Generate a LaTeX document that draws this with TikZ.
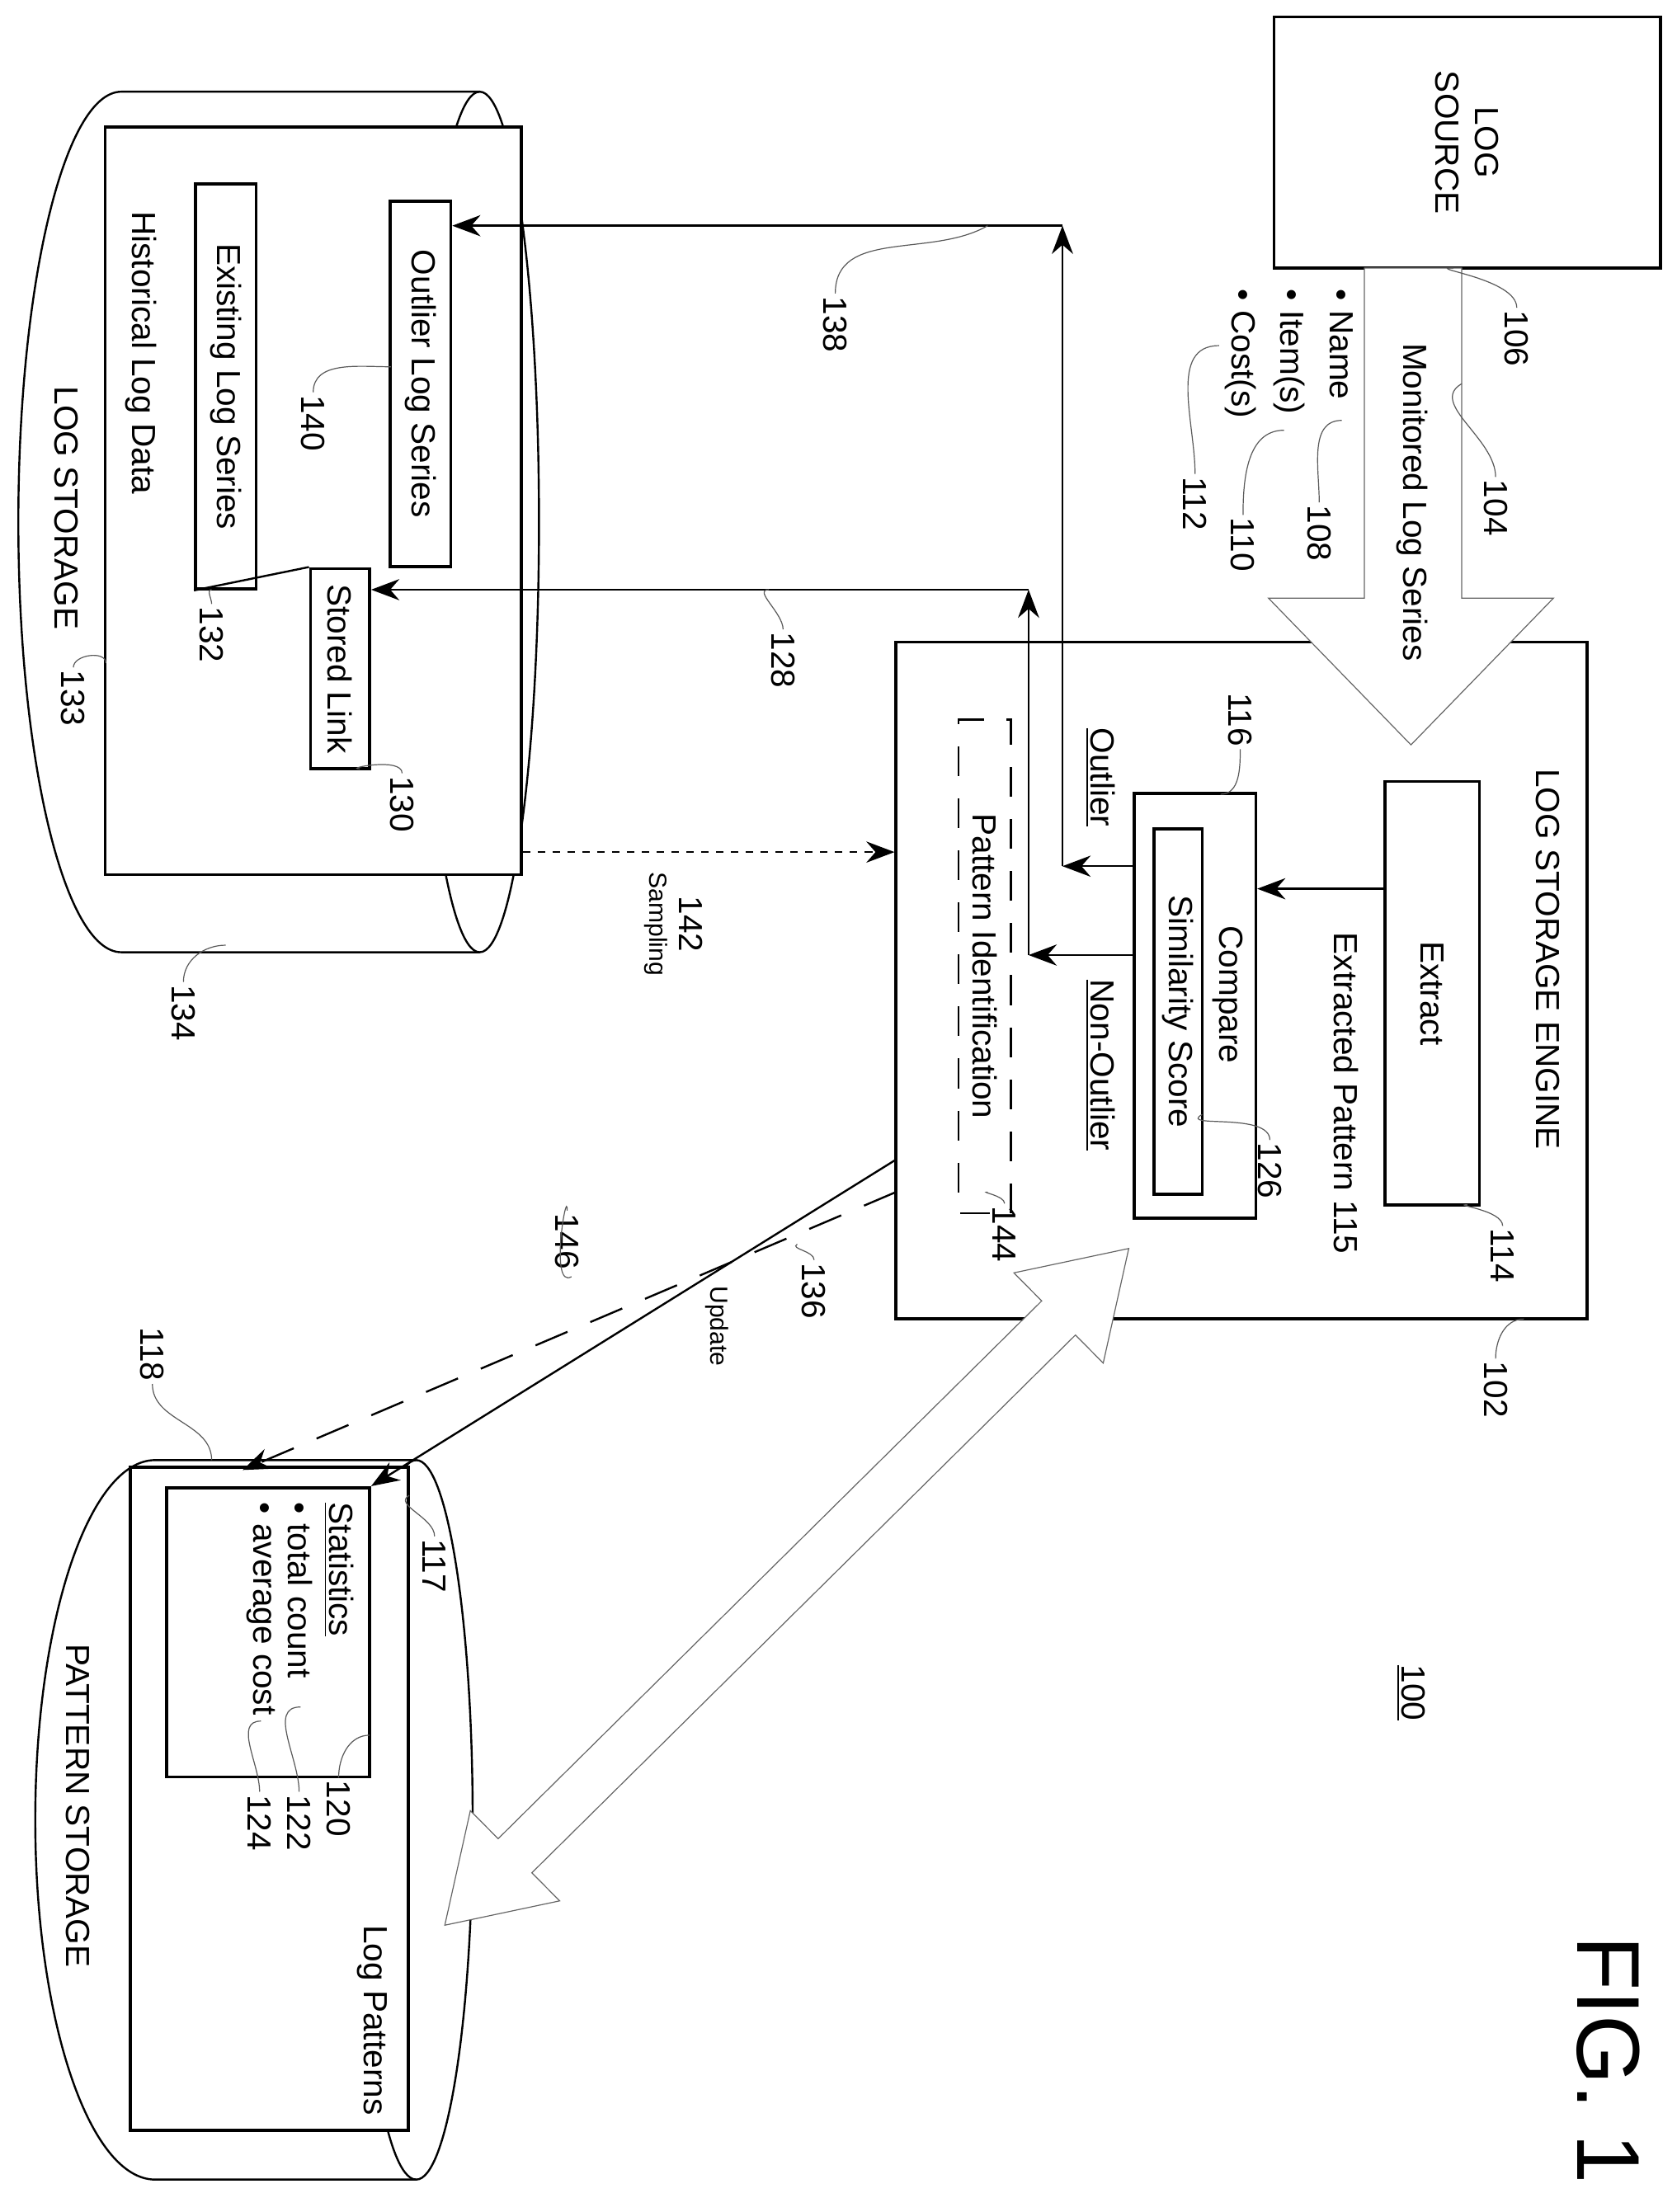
\documentclass[tikz,border=0pt]{standalone}
\usepackage{fontspec}
\setmainfont{Liberation Sans}
\usetikzlibrary{arrows.meta,positioning,calc}

\begin{document}
\begin{tikzpicture}[x=0.02cm, y=0.02cm,
                box/.style={rectangle, draw, very thick, fill=white, inner sep=0pt},
                txt/.style={font=\fontsize{13.5}{16}\selectfont, inner sep=1pt},
                num/.style={font=\fontsize{13.5}{16}\selectfont, inner sep=1pt},
                small/.style={font=\fontsize{10}{12}\selectfont, inner sep=1pt},
                arr/.style={-{Stealth[length=4mm,width=3mm]}, thick},
                lead/.style={thin, gray!70!black},
                hollow/.style={draw=gray!80!black, thin, fill=white}]
    \useasboundingbox (0,0) rectangle (1188,-1568);
    \begin{scope}[rotate=-90, transform shape]

        % Log storage cylinder
        \draw[thick] (370,340) ellipse[x radius=305, y radius=42];
        \draw[thick] (65,340) -- (65,86) arc[start angle=180, end angle=360, x radius=305, y radius=73] -- (675,340);

        % Pattern storage cylinder
        \draw[thick] (1290,295) ellipse[x radius=255, y radius=40];
        \draw[thick] (1035,295) -- (1035,110) arc[start angle=180, end angle=360, x radius=255, y radius=85] -- (1545,295);

        % Log source
        \node[box] (source) at (101,1040) [minimum width=3.56cm, minimum height=5.48cm] {};
        \node[txt, align=center] at (source) {LOG\\SOURCE};

        % Log storage engine
        \node[box] (engine) at (695,880) [minimum width=9.6cm, minimum height=9.8cm] {};
        \node[txt] (title) at (680,1097) {LOG STORAGE ENGINE};
        \node[box] (extract) at (704,1015) [minimum width=6cm, minimum height=1.34cm] {};
        \node[txt] at (extract) {Extract};
        \node[txt] (extracted) at (775,954) {Extracted Pattern 115};
        \node[box] (compare) at (713,847) [minimum width=6.02cm, minimum height=1.72cm] {};
        \node[txt] at (705,870) {Compare};
        \node[box] (similarity) at (717,835) [minimum width=5.18cm, minimum height=0.68cm] {};
        \node[txt] at (similarity) {Similarity Score};
        \node[rectangle, draw, thick, dash pattern=on 12pt off 9pt, minimum width=7cm, minimum height=0.74cm] (patternid) at (685,698) {};
        \node[txt] at (patternid) {Pattern Identification};
        \node[txt] (outlierlbl) at (551,780) {\underline{Outlier}};
        \node[txt] (nonoutlierlbl) at (755,780) {\underline{Non-Outlier}};

        % Monitored log series
        \draw[hollow] (190,967) -- (424,967) -- (424,899) -- (528,1000) -- (424,1101) -- (424,1036) -- (190,1036) -- cycle;
        \node[txt] (monitored) at (356,1001) {Monitored Log Series};
        \node[txt, anchor=west] (name) at (203,951) {\textbullet\ Name};
        \node[txt, anchor=west] (items) at (203,914) {\textbullet\ Item(s)};
        \node[txt, anchor=west] (costs) at (203,879) {\textbullet\ Cost(s)};

        % Historical log data
        \node[box] (hist) at (355,222) [minimum width=10.6cm, minimum height=5.9cm] {};
        \node[txt] at (250,100) {Historical Log Data};
        \node[txt] at (360,47) {LOG STORAGE};
        \node[box] (outlier) at (272,298) [minimum width=5.18cm, minimum height=0.86cm] {};
        \node[txt] at (outlier) {Outlier Log Series};
        \node[box] (existing) at (274,160) [minimum width=5.74cm, minimum height=0.86cm] {};
        \node[txt] at (existing) {Existing Log Series};
        \node[box] (stored) at (474,241) [minimum width=2.84cm, minimum height=0.84cm] {};
        \node[txt] at (stored) {Stored Link};
        \draw[thick] (existing.south east) -- (stored.south west);

        % Log patterns
        \node[box] (logpat) at (1275,191) [minimum width=9.4cm, minimum height=3.94cm] {};
        \node[txt] at (1432,264) {Log Patterns};
        \node[box] (stats) at (1157,190) [minimum width=4.1cm, minimum height=2.88cm] {};
        \node[txt, anchor=west] (statistics) at (1063,240) {\underline{Statistics}};
        \node[txt, anchor=west] (total) at (1063,213) {\textbullet\ total count};
        \node[txt, anchor=west] (average) at (1063,185) {\textbullet\ average cost};
        \node[txt] at (1280,55) {PATTERN STORAGE};

        % Figure title
        \node[num] (fignum) at (1200,1000) {\underline{100}};
        \node[font=\fontsize{36}{40}\selectfont] (fig) at (1460,1140) {FIG. 1};

        % Double arrow between engine and pattern storage
        \begin{scope}[shift={(885,800)}, rotate=-45.3]
            \draw[hollow] (0,0) -- (70,45) -- (70,17) -- (612,17) -- (612,45) -- (682,0) -- (612,-45) -- (612,-17) -- (70,-17) -- (70,-45) -- cycle;
        \end{scope}

        % Connectors
        \coordinate (ec) at (630,0);
        \draw[arr] (ec |- extract.south) -- (ec |- compare.north);
        \coordinate (oc) at (614,753);
        \coordinate (ot) at (160,753);
        \draw[arr] (oc |- compare.south) -- (oc);
        \draw[arr] (oc) -- (ot);
        \draw[arr] (ot) -- (outlier.north -| ot);
        \coordinate (nc) at (677,729);
        \coordinate (nt) at (418,729);
        \draw[arr] (nc |- compare.south) -- (nc);
        \draw[arr] (nc) -- (nt);
        \draw[arr] (nt) -- (stored.north -| nt);
        \coordinate (sp) at (604,0);
        \draw[arr, dashed] (sp |- hist.north) -- (sp |- engine.south);
        \node[small] (sampling) at (655,465) {Sampling};
        \coordinate (d1) at (845,635);
        \coordinate (d2) at (1042,172);
        \draw[arr, dash pattern=on 14pt off 10pt] (d1) -- (d2);
        \coordinate (s1) at (822,635);
        \draw[arr] (s1) -- (stats.north west);
        \node[small] (update) at (940,508) {Update};

        % Reference numerals
        \node[num] (n106) at (240,1075) {106};
        \node[num] (n104) at (360,1060) {104};
        \node[num] (n108) at (378,935) {108};
        \node[num] (n110) at (386,881) {110};
        \node[num] (n112) at (357,847) {112};
        \node[num] (n102) at (985,1060) {102};
        \node[num] (n114) at (890,1065) {114};
        \node[num] (n116) at (510,879) {116};
        \node[num] (n126) at (830,900) {126};
        \node[num] (n144) at (875,712) {144};
        \node[num] (n138) at (230,592) {138};
        \node[num] (n128) at (468,555) {128};
        \node[num] (n142) at (655,490) {142};
        \node[num] (n146) at (880,402) {146};
        \node[num] (n136) at (915,577) {136};
        \node[num] (n140) at (300,222) {140};
        \node[num] (n132) at (450,150) {132};
        \node[num] (n130) at (570,285) {130};
        \node[num] (n133) at (495,52) {133};
        \node[num] (n134) at (718,130) {134};
        \node[num] (n118) at (960,108) {118};
        \node[num] (n117) at (1110,308) {117};
        \node[num] (n120) at (1282,240) {120};
        \node[num] (n122) at (1292,212) {122};
        \node[num] (n124) at (1292,184) {124};

        % Leaders
        \draw[lead] (n106.west) to[out=180, in=-90] (190,1030);
        \draw[lead] (n104.west) to[out=180, in=-60] (272,1036);
        \draw[lead] (n108.west) to[out=180, in=-90] (298,951);
        \draw[lead] (n110.west) to[out=180, in=-90] (305,910);
        \draw[lead] (n112.west) to[out=180, in=-90] (245,864);
        \draw[lead] (n102.west) to[out=180, in=-90] (935,1080);
        \draw[lead] (n114.west) to[out=180, in=-90] (854,1040);
        \draw[lead] (n116.east) to[out=0, in=90] (563,865);
        \draw[lead] (n126.west) to[out=180, in=-60] (790,852);
        \draw[lead] (n144.west) to[out=180, in=-90] (845,700);
        \draw[lead] (n138.west) to[out=180, in=-60] (160,700);
        \draw[lead] (n128.west) to[out=180, in=-90] (418,545);
        \draw[lead] (n146.west) to[out=180, in=-60] (905,405);
        \draw[lead] (n136.west) to[out=180, in=-60] (882,565);
        \draw[lead] (n140.west) to[out=180, in=-90] (260,277);
        \draw[lead] (n132.west) to[out=180, in=-90] (418,150);
        \draw[lead] (n130.west) to[out=180, in=-90] (545,255);
        \draw[lead] (n133.west) to[out=180, in=180] (470,75);
        \draw[lead] (n134.west) to[out=180, in=-90] (670,160);
        \draw[lead] (n118.east) to[out=0, in=180] (1035,150);
        \draw[lead] (n117.west) to[out=180, in=-60] (1060,290);
        \draw[lead] (n120.west) to[out=180, in=-90] (1230,262);
        \draw[lead] (n122.west) to[out=180, in=-90] (1210,213);
        \draw[lead] (n124.west) to[out=180, in=-90] (1220,185);
    \end{scope}
\end{tikzpicture}
\end{document}
